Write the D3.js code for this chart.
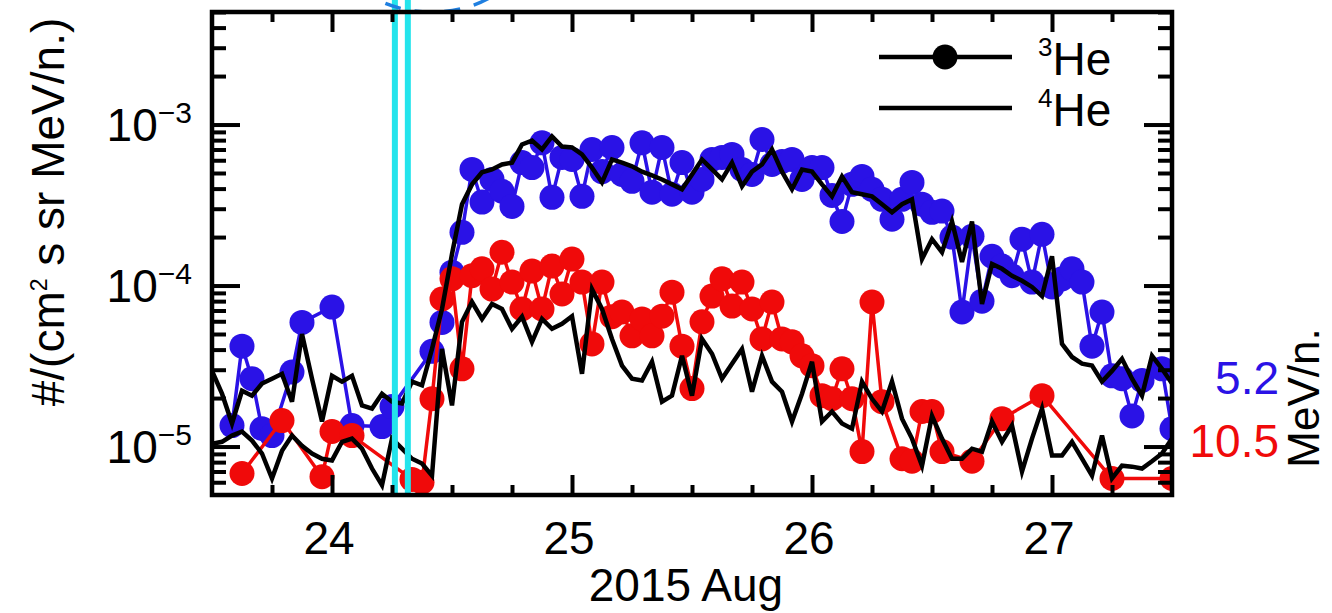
<!DOCTYPE html>
<html>
<head>
<meta charset="utf-8">
<script src="https://cdnjs.cloudflare.com/ajax/libs/d3/7.8.5/d3.min.js"></script>
<style>
  body { margin: 0; background: #fff; }
  svg { display: block; font-family: "Liberation Sans", Arial, Helvetica, sans-serif; }
</style>
</head>
<body>
<svg id="chart"></svg>
<script>
// hourly samples, index 0 = 2015 Aug 23 12:00
let startDay = 23.5
let hours = d3.range(97)

// 3He 5.2 MeV/n. (blue dots)
let he3Low = [
  null, null, 1.35e-5, 4.2e-5, 2.64e-5, 1.29e-5, 1.17e-5, null, 2.9e-5, 5.9e-5,
  null, null, 7.35e-5, null, 1.35e-5, null, null, 1.33e-5, 1.77e-5, null,
  null, null, 3.9e-5, 5.9e-5, 1.21e-4, 2.14e-4, 5.26e-4, 3.3e-4, 4.56e-4, 3.85e-4,
  3.1e-4, 5.8e-4, 5.4e-4, 7.7e-4, 3.53e-4, 6.25e-4, 6.07e-4, 3.58e-4, 7.0e-4, 5.1e-4,
  7.2e-4, 4.9e-4, 4.44e-4, 7.7e-4, 3.8e-4, 7.2e-4, 3.69e-4, 5.8e-4, 3.8e-4, 4.56e-4,
  6.07e-4, 6.25e-4, 6.52e-4, 5.26e-4, 4.9e-4, 8.07e-4, 5.65e-4, 5.9e-4, 6.07e-4, 4.56e-4,
  5.4e-4, 5.4e-4, 3.63e-4, 2.5e-4, 4.25e-4, 4.76e-4, 3.96e-4, 3.43e-4, 2.58e-4, 3.43e-4,
  4.37e-4, 3.2e-4, 2.85e-4, 2.9e-4, 2.0e-4, 6.85e-5, 2.02e-4, 8.0e-5, 1.52e-4, 1.32e-4,
  1.15e-4, 1.94e-4, 1.05e-4, 2.08e-4, 9.8e-5, 1.1e-4, 1.27e-4, 1.05e-4, 4.2e-5, 6.85e-5,
  2.75e-5, 2.64e-5, 1.55e-5, 2.57e-5, null, 3.04e-5, 1.29e-5
]

// 3He 10.5 MeV/n. (red dots)
let he3High = [
  null, null, null, 6.8e-6, null, null, null, 1.45e-5, null, null,
  null, 6.5e-6, 1.24e-5, null, 1.17e-5, null, null, null, null, null,
  6.25e-6, 6.0e-6, 1.98e-5, 8.25e-5, 1.1e-4, 3.04e-5, 1.15e-4, 1.27e-4, 9.5e-5, 1.61e-4,
  1.05e-4, 7.15e-5, 1.23e-4, 7.15e-5, 1.32e-4, 8.86e-5, 1.46e-4, 1.05e-4, 4.34e-5, 1.05e-4,
  6.4e-5, 6.85e-5, 4.87e-5, 6.2e-5, 4.87e-5, 6.45e-5, 9.1e-5, 4.2e-5, 2.29e-5, 5.95e-5,
  8.6e-5, 1.1e-4, 7.45e-5, 1.05e-4, 7.15e-5, 4.66e-5, 7.9e-5, 4.66e-5, 4.47e-5, 3.66e-5,
  3.18e-5, 2.07e-5, 1.98e-5, 3.04e-5, 1.98e-5, 9.3e-6, 7.9e-5, 1.9e-5, null, 8.4e-6,
  8.1e-6, 1.65e-5, 1.65e-5, 9.3e-6, null, null, 8.1e-6, null, null, 1.49e-5,
  null, null, null, 2.07e-5, null, null, null, null, null, null,
  6.33e-6, null, null, null, null, null, 6.33e-6
]

// 4He 5.2 MeV/n. (black line)
let he4Low = [
  2.95e-5, 2.13e-5, 1.39e-5, 2.22e-5, 2.07e-5, 2.46e-5, 2.64e-5, 2.83e-5, 1.9e-5, 5.0e-5,
  2.64e-5, 1.43e-5, 2.75e-5, 2.53e-5, 2.75e-5, 1.8e-5, 1.72e-5, 2.13e-5, 1.9e-5, 1.85e-5,
  2.53e-5, 2.4e-5, 4.04e-5, 7.15e-5, 1.57e-4, 3.2e-4, 4.25e-4, 5.05e-4, 5.26e-4, 5.65e-4,
  5.8e-4, 7.52e-4, 7.95e-4, 7.0e-4, 8.43e-4, 7.3e-4, 7.2e-4, 6.52e-4, 5.4e-4, 4.37e-4,
  6.07e-4, 5.8e-4, 5.5e-4, 5.1e-4, 4.83e-4, 4.56e-4, 4.25e-4, 3.96e-4, 4.9e-4, 6.07e-4,
  5.26e-4, 4.56e-4, 5.8e-4, 4.13e-4, 5.1e-4, 5.65e-4, 7.0e-4, 5.1e-4, 3.96e-4, 5.26e-4,
  5.1e-4, 4.25e-4, 3.58e-4, 4.76e-4, 3.8e-4, 3.69e-4, 3.58e-4, 3.2e-4, 2.85e-4, 3.2e-4,
  3.43e-4, 1.46e-4, 1.94e-4, 1.61e-4, 2.5e-4, 1.4e-4, 2.5e-4, 7.68e-5, 1.36e-4, 1.27e-4,
  1.15e-4, 1.07e-4, 9.8e-5, 8.6e-5, 1.52e-4, 4.34e-5, 3.6e-5, 3.27e-5, 3.18e-5, 2.53e-5,
  2.95e-5, 3.51e-5, 2.64e-5, 2.07e-5, 3.66e-5, 3.04e-5, 2.46e-5
]

// 4He 10.5 MeV/n. (black line)
let he4High = [
  1.04e-5, 1.07e-5, 1.17e-5, 1.24e-5, 1.09e-5, 9.05e-6, 6.33e-6, 9.4e-6, 1.17e-5, 1.01e-5,
  9.05e-6, 8.4e-6, 8.2e-6, 1.07e-5, 1.12e-5, 9.7e-6, 7.3e-6, 5.75e-6, 1.12e-5, 9.7e-6,
  8.4e-6, 7.85e-6, 6.6e-6, 4.04e-5, 1.8e-5, 5.95e-5, 7.9e-5, 6.2e-5, 7.68e-5, 7.15e-5,
  5.38e-5, 6.4e-5, 4.47e-5, 6.2e-5, 5.38e-5, 5.78e-5, 6.45e-5, 2.83e-5, 9.5e-5, 7.15e-5,
  4.66e-5, 3.18e-5, 2.64e-5, 2.57e-5, 3.36e-5, 1.9e-5, 2.07e-5, 3.66e-5, 2.07e-5, 4.66e-5,
  3.77e-5, 2.64e-5, 3.27e-5, 4.04e-5, 2.19e-5, 3.66e-5, 2.53e-5, 2.19e-5, 1.43e-5, 2.13e-5,
  3.36e-5, 1.43e-5, 1.65e-5, 1.39e-5, 1.29e-5, 2.53e-5, 1.98e-5, 1.65e-5, 2.53e-5, 1.49e-5,
  1.12e-5, 7.6e-6, 1.55e-5, 1.12e-5, 8.4e-6, 8.4e-6, 9.7e-6, 9.3e-6, 1.43e-5, 1.07e-5,
  1.35e-5, 7.0e-6, 1.12e-5, 1.72e-5, 8.8e-6, 8.8e-6, 1.07e-5, 8.4e-6, 6.6e-6, 1.17e-5,
  6.33e-6, 7.6e-6, 7.5e-6, 7.3e-6, 8.1e-6, 9.05e-6, 1.12e-5
]

let xTickDays = [24, 25, 26, 27]
let xMinorDays = [23.75, 24.25, 24.5, 24.75, 25.25, 25.5, 25.75, 26.25, 26.5, 26.75, 27.25]
let yTickVals = [1e-5, 1e-4, 1e-3]
let yTickExps = ['\u22125', '\u22124', '\u22123']
let markerDays = [24.262, 24.316]
let energyLabels = ['5.2', '10.5']
let legendNames = ['3', '4']

// canvas and plot box
let width = 1332
let height = 613
let plotLeft = 212
let plotRight = 1172
let plotTop = 12
let plotBottom = 495
let fontSize = 46

let blue = '#2a12e6'
let red = '#f00a0a'
let cyan = '#24e4ec'

let svg = d3.select('#chart').attr('width', width).attr('height', height)

let xScale = d3.scaleLinear().domain([23.5, 27.5]).range([plotLeft, plotRight])
let yScale = d3.scaleLog().domain([5e-6, 5e-3]).range([plotBottom, plotTop])

// y minor ticks 2..9 in each decade inside the domain
let yMinorVals = []
;[1e-6, 1e-5, 1e-4, 1e-3].forEach(dec => {
    for (let m = 2; m <= 9; m++) {
        let v = dec * m
        if (v >= 5e-6 && v <= 5e-3) yMinorVals.push(v)
    }
})

let toPoints = (vals) => hours
    .map(h => ({ t: startDay + h / 24, v: vals[h] }))
    .filter(d => d.v != null)

let lineGen = d3.line()
    .x(d => xScale(d.t))
    .y(d => yScale(d.v))

svg.append('defs').append('clipPath').attr('id', 'plot-clip')
   .append('rect')
   .attr('x', plotLeft).attr('y', plotTop)
   .attr('width', plotRight - plotLeft).attr('height', plotBottom - plotTop)

let plot = svg.append('g').attr('clip-path', 'url(#plot-clip)')

// 3He series with dots
let drawDotted = (vals, color) => {
    let pts = toPoints(vals)
    plot.append('path')
        .datum(pts)
        .attr('d', lineGen)
        .attr('fill', 'none')
        .attr('stroke', color)
        .attr('stroke-width', 3.5)
        .attr('stroke-linejoin', 'round')
    plot.append('g')
        .selectAll('circle')
        .data(pts)
        .enter()
        .append('circle')
        .attr('cx', d => xScale(d.t))
        .attr('cy', d => yScale(d.v))
        .attr('r', 12.5)
        .attr('fill', color)
}

drawDotted(he3Low, blue)
drawDotted(he3High, red)

// 4He lines on top
;[he4Low, he4High].forEach(vals => {
    plot.append('path')
        .datum(toPoints(vals))
        .attr('d', lineGen)
        .attr('fill', 'none')
        .attr('stroke', '#000')
        .attr('stroke-width', 4.5)
        .attr('stroke-linejoin', 'miter')
})

// cyan event markers, running above the frame
svg.append('g')
   .selectAll('line')
   .data(markerDays)
   .enter()
   .append('line')
   .attr('x1', d => xScale(d)).attr('x2', d => xScale(d))
   .attr('y1', 0).attr('y2', plotBottom)
   .attr('stroke', cyan)
   .attr('stroke-width', 6)

// dashed blue ellipse partly visible above the plot
svg.append('ellipse')
   .attr('cx', xScale(24.415))
   .attr('cy', -48)
   .attr('rx', 90)
   .attr('ry', 60)
   .attr('fill', 'none')
   .attr('stroke', '#1f7fe0')
   .attr('stroke-width', 3.5)
   .attr('stroke-dasharray', '16,14')

// ticks on all four sides, pointing inward
let drawTicks = (axis, transform) => {
    let g = svg.append('g').attr('transform', transform).call(axis)
    g.select('.domain').remove()
    g.selectAll('.tick line').attr('stroke', '#000').attr('stroke-width', 4)
    g.selectAll('.tick text').remove()
}

drawTicks(d3.axisBottom(xScale).tickValues(xTickDays).tickSize(-20), `translate(0,${plotBottom})`)
drawTicks(d3.axisBottom(xScale).tickValues(xMinorDays).tickSize(-10), `translate(0,${plotBottom})`)
drawTicks(d3.axisTop(xScale).tickValues(xTickDays).tickSize(-20), `translate(0,${plotTop})`)
drawTicks(d3.axisTop(xScale).tickValues(xMinorDays).tickSize(-10), `translate(0,${plotTop})`)
drawTicks(d3.axisLeft(yScale).tickValues(yTickVals).tickSize(-28), `translate(${plotLeft},0)`)
drawTicks(d3.axisLeft(yScale).tickValues(yMinorVals).tickSize(-14), `translate(${plotLeft},0)`)
drawTicks(d3.axisRight(yScale).tickValues(yTickVals).tickSize(-28), `translate(${plotRight},0)`)
drawTicks(d3.axisRight(yScale).tickValues(yMinorVals).tickSize(-14), `translate(${plotRight},0)`)

// frame
svg.append('rect')
   .attr('x', plotLeft).attr('y', plotTop)
   .attr('width', plotRight - plotLeft).attr('height', plotBottom - plotTop)
   .attr('fill', 'none')
   .attr('stroke', '#000')
   .attr('stroke-width', 4.5)

// x tick labels and title
svg.append('g')
   .selectAll('text')
   .data(xTickDays)
   .enter()
   .append('text')
   .attr('x', d => xScale(d) - 3)
   .attr('y', 554)
   .attr('text-anchor', 'middle')
   .attr('font-size', fontSize)
   .text(d => d)

svg.append('text')
   .attr('x', (plotLeft + plotRight) / 2 - 6)
   .attr('y', 601)
   .attr('text-anchor', 'middle')
   .attr('font-size', fontSize)
   .text('2015 Aug')

// y tick labels 10^-n
let yLab = svg.append('g')
   .selectAll('text')
   .data(yTickVals)
   .enter()
   .append('text')
   .attr('x', 192)
   .attr('y', d => yScale(d) + 16)
   .attr('text-anchor', 'end')
   .attr('font-size', fontSize)
yLab.append('tspan').text('10')
yLab.append('tspan')
    .attr('dy', -18)
    .attr('font-size', 30)
    .text((d, i) => yTickExps[i])

// y title
let yTitle = svg.append('text')
   .attr('transform', 'translate(64,212) rotate(-90)')
   .attr('text-anchor', 'middle')
   .attr('font-size', fontSize)
yTitle.append('tspan').text('#/(cm')
yTitle.append('tspan').attr('dy', -17).attr('font-size', 23).text('2')
yTitle.append('tspan').attr('dy', 17).text(' s sr MeV/n.)')

// energy labels on the right
svg.append('g')
   .selectAll('text')
   .data(energyLabels)
   .enter()
   .append('text')
   .attr('x', 1279)
   .attr('y', (d, i) => [394, 457][i])
   .attr('text-anchor', 'end')
   .attr('font-size', fontSize)
   .attr('fill', (d, i) => [blue, red][i])
   .text(d => d)

svg.append('text')
   .attr('transform', 'translate(1319,398) rotate(-90)')
   .attr('text-anchor', 'middle')
   .attr('font-size', 44)
   .text('MeV/n.')

// legend
let legend = svg.append('g')
legendNames.forEach((n, i) => {
    let ly = 57 + i * 51
    legend.append('line')
          .attr('x1', 879).attr('x2', 1012)
          .attr('y1', ly).attr('y2', ly)
          .attr('stroke', '#000').attr('stroke-width', 4.5)
    if (i == 0) {
        legend.append('circle').attr('cx', 945).attr('cy', ly).attr('r', 12.5).attr('fill', '#000')
    }
    let t = legend.append('text').attr('x', 1038).attr('y', ly + 18).attr('font-size', fontSize)
    t.append('tspan').attr('dy', -19).attr('font-size', 26).text(n)
    t.append('tspan').attr('dy', 19).text('He')
})
</script>
</body>
</html>
